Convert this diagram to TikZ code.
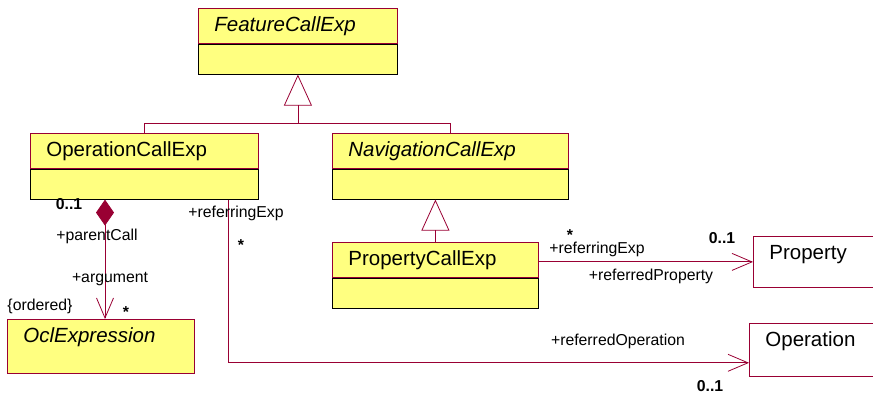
\documentclass[tikz,border=0pt]{standalone}
\usepackage{fontspec}
\setmainfont{Liberation Sans}
\usetikzlibrary{positioning, arrows.meta, calc}
\definecolor{umlred}{RGB}{153,0,51}
\definecolor{umlyellow}{RGB}{255,255,128}

\begin{document}
\begin{tikzpicture}[x=1pt, y=-1pt, >={Straight Barb[length=20pt, width=17pt]}]
        \tikzstyle{classname} = [draw=umlred, fill=umlyellow, rectangle, anchor=north west, line width=0.8pt, inner xsep=16pt, inner ysep=6pt, text height=17.3pt, text depth=5.7pt, align=left, font=\fontsize{20.5}{24}\selectfont]
        \tikzstyle{abstract} = [font=\fontsize{20.5}{24}\selectfont\itshape]
        \tikzstyle{attrbox} = [draw=black, fill=umlyellow, rectangle, line width=0.8pt, minimum height=30pt, inner sep=0pt]
        \tikzstyle{plainbox} = [classname, fill=white]
        \tikzstyle{link} = [draw=umlred, line width=0.8pt]
        \tikzstyle{lbl} = [inner sep=0pt, font=\fontsize{15.8}{18}\selectfont]
        \tikzstyle{mult} = [inner sep=0pt, font=\fontsize{15.8}{18}\selectfont\bfseries]

        \useasboundingbox (0,0) rectangle (873,398);

        % classes
        \node[classname, abstract, text width=167pt] (fce) at (198,8) {FeatureCallExp};
        \node[attrbox, minimum width=199pt, below=0pt of fce] (fceattr) {};
        \node[classname, text width=196pt] (opname) at (30,133) {OperationCallExp};
        \node[attrbox, minimum width=228pt, below=0pt of opname] (opattr) {};
        \node[classname, abstract, text width=204pt] (navname) at (332,133) {NavigationCallExp};
        \node[attrbox, minimum width=236pt, below=0pt of navname] (navattr) {};
        \node[classname, text width=174pt] (pcename) at (332,242) {PropertyCallExp};
        \node[attrbox, minimum width=206pt, below=0pt of pcename] (pceattr) {};
        \node[classname, abstract, text width=155pt, text depth=24.7pt] (ocl) at (7,319) {OclExpression};
        \node[plainbox, text width=90pt, text depth=21.7pt] (prop) at (753,236) {Property};
        \node[plainbox, text width=94pt, text depth=23.7pt] (oper) at (749,323) {Operation};

        % generalisations
        \coordinate (fork) at (fceattr.south |- 0,123);
        \draw[link, -{Triangle[open, length=31pt, width=28pt]}] (opname.north) |- (fork) -- (fceattr.south);
        \draw[link] (navname.north) |- (fork);
        \draw[link, -{Triangle[open, length=31pt, width=28pt]}] (pcename.north) -- (pcename.north |- navattr.south);

        % associations
        \draw[link, {Diamond[length=26pt, width=18pt]}->] ([xshift=75pt]opattr.south west) -- ([xshift=98pt]ocl.north west);
        \draw[link, ->] ([xshift=198pt]opattr.south west) |- ([yshift=14pt]oper.south west);
        \draw[link, ->] (prop.west -| pcename.east) -- (prop.west);

        % role names and multiplicities
        \node[mult] (m1) at (69,204) {0..1};
        \node[lbl] (r1) at (97,236) {+parentCall};
        \node[lbl] (r2) at (110,279) {+argument};
        \node[lbl] (c1) at (40,306) {\{ordered\}};
        \node[mult] (m2) at (126,312) {*};
        \node[lbl] (r3) at (236,213) {+referringExp};
        \node[mult] (m3) at (241,245) {*};
        \node[lbl] (r4) at (618,341) {+referredOperation};
        \node[mult] (m4) at (710,386) {0..1};
        \node[mult] (m5) at (570,235) {*};
        \node[lbl] (r5) at (597,249) {+referringExp};
        \node[mult] (m6) at (722,238) {0..1};
        \node[lbl] (r6) at (651,276) {+referredProperty};
    \end{tikzpicture}
\end{document}
